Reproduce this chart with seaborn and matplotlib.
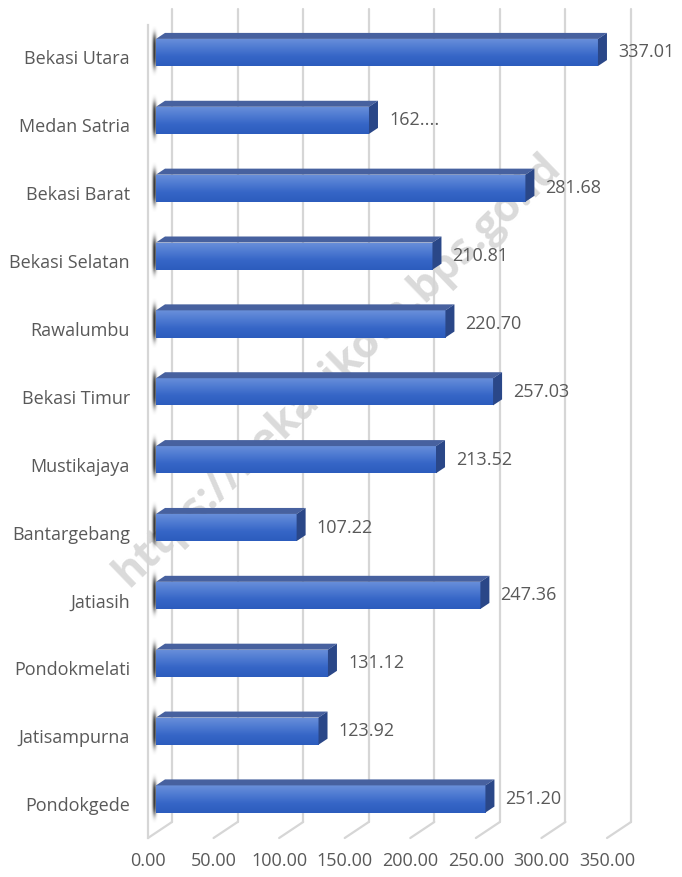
import numpy as np
import matplotlib
matplotlib.use('Agg')
import matplotlib.pyplot as plt
import matplotlib.transforms as mtrans
from matplotlib.colors import LinearSegmentedColormap
from matplotlib.patches import Polygon
import seaborn as sns

# data
districts = ['Bekasi Utara', 'Medan Satria', 'Bekasi Barat', 'Bekasi Selatan', 'Rawalumbu',
             'Bekasi Timur', 'Mustikajaya', 'Bantargebang', 'Jatiasih', 'Pondokmelati',
             'Jatisampurna', 'Pondokgede']
values = [337.01, 162.40, 281.68, 210.81, 220.70, 257.03, 213.52, 107.22, 247.36, 131.12, 123.92, 251.20]
value_labels = ['337.01', '162....', '281.68', '210.81', '220.70', '257.03', '213.52', '107.22',
                '247.36', '131.12', '123.92', '251.20']
ticks = [0, 50, 100, 150, 200, 250, 300, 350]

sns.set_style('white')
plt.rcParams['font.family'] = ['Open Sans', 'DejaVu Sans']

W, H = 682, 877
fig = plt.figure(figsize=(W / 100, H / 100), dpi=100)
ax = fig.add_axes([148 / W, 39 / H, 459 / W, 813 / H])
ax.set_facecolor('none')

sns.barplot(x=values, y=districts, orient='h', color='#3f6cc9', width=0.4,
            saturation=1, ax=ax, zorder=3)

ylim = (11.575, -0.405)
ax.set_xlim(0, 350)
ax.set_ylim(*ylim)
sx = 459 / 350.0
sy = 813 / (ylim[0] - ylim[1])

grid_c = '#d6d6d6'
# back wall gridlines with 3D slant
gdx, gdy = 24 / sx, 16 / sy
for t in ticks:
    ax.plot([t + gdx, t + gdx], [ylim[1] - gdy, ylim[0] - gdy], color=grid_c, lw=1.6,
            clip_on=False, zorder=1)
    ax.plot([t, t + gdx], [ylim[0], ylim[0] - gdy], color=grid_c, lw=1.6,
            clip_on=False, zorder=1)

# soft shadow image (black, gaussian alpha)
gx = np.linspace(-1, 1, 40)
gy = np.linspace(-1, 1, 80)
shadow = np.zeros((80, 40, 4))
shadow[..., 3] = 0.8 * np.exp(-(gx[None, :] / 0.45) ** 2) * np.exp(-(gy[:, None] / 0.7) ** 4)

# bars: gradient front, top and side faces
off_bar = mtrans.offset_copy(ax.transData, fig=fig, x=8, y=0, units='dots')
cm = LinearSegmentedColormap.from_list('front', ['#6a90da', '#4f7bd2', '#3565c6', '#2c5cbd'])
dx, dy = 9 / sx, 6 / sy
for p in list(ax.patches):
    p.set_transform(off_bar)
    p.set_edgecolor('none')
    x0, y0, w, h = p.get_x(), p.get_y(), p.get_width(), p.get_height()
    im = ax.imshow(np.linspace(0, 1, 60).reshape(-1, 1), cmap=cm, aspect='auto',
                   extent=(0, w, y0 + h, y0), origin='upper', zorder=3.1)
    im.set_transform(off_bar)
    im.set_clip_path(p)
    top = Polygon([(0, y0), (w, y0), (w + dx, y0 - dy), (dx, y0 - dy)], closed=True,
                  facecolor='#47619f', edgecolor='none', transform=off_bar, zorder=3.2)
    side = Polygon([(w, y0), (w + dx, y0 - dy), (w + dx, y0 + h - dy), (w, y0 + h)],
                   closed=True, facecolor='#2a4788', edgecolor='none', transform=off_bar,
                   zorder=3.2)
    ax.add_patch(top)
    ax.add_patch(side)
    sh = ax.imshow(shadow, aspect='auto', interpolation='bilinear',
                   extent=(-6 / sx, 3 / sx, y0 + h + 10 / sy, y0 - 12 / sy),
                   origin='upper', zorder=2.5)
    sh.set_transform(off_bar)
    sh.set_clip_on(False)

for i, (v, lab) in enumerate(zip(values, value_labels)):
    ax.text(v + dx + 11 / sx, i, lab, transform=off_bar, va='center', ha='left',
            fontsize=13, color='#595959', zorder=4)

ax.set_xlim(0, 350)
ax.set_ylim(*ylim)
ax.set_xticks(ticks)
ax.set_xticklabels([f'{t:.2f}' for t in ticks])
ax.set_ylabel('')
ax.set_xlabel('')
ax.tick_params(axis='x', length=0, pad=10, labelsize=13, labelcolor='#595959')
ax.tick_params(axis='y', length=0, pad=13, labelsize=13, labelcolor='#595959')
shift = mtrans.ScaledTranslation(0, -0.05, fig.dpi_scale_trans)
for lbl in ax.get_yticklabels():
    lbl.set_transform(lbl.get_transform() + shift)

for s in ['top', 'right', 'bottom']:
    ax.spines[s].set_visible(False)
ax.spines['left'].set_color(grid_c)
ax.spines['left'].set_linewidth(1.6)
ax.grid(False)

# watermark
ax.text(338 / W, 1 - 370 / H, 'https://bekasikota.bps.go.id', transform=fig.transFigure,
        rotation=44, rotation_mode='anchor', ha='center', va='center', fontsize=31,
        fontweight='bold', color='#d4d4d4', alpha=0.85, zorder=2, clip_on=False)

fig.savefig('out.png', dpi=100, facecolor='white')
